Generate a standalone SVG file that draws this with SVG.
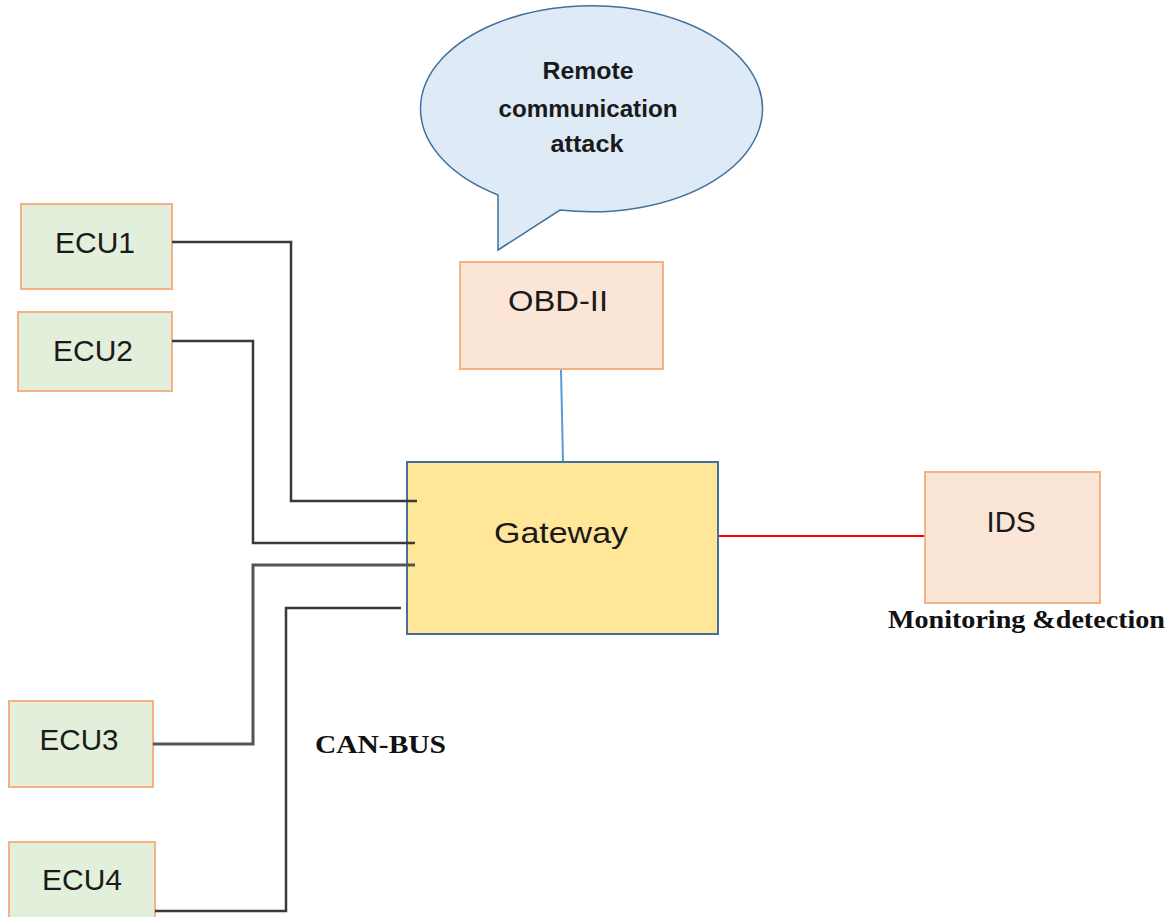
<svg xmlns="http://www.w3.org/2000/svg" width="1174" height="917" viewBox="0 0 1174 917">
  <style>
    .ecu { fill: #E2EFDA; stroke: #F4B183; stroke-width: 2; }
    .peach { fill: #FBE5D6; stroke: #F4B183; stroke-width: 2; }
    .gw { fill: #FFE699; stroke: #41719C; stroke-width: 2; }
    .bubble { fill: #DEEBF7; stroke: #41719C; stroke-width: 1.5; }
    .lbl { font-family: "Liberation Sans", Arial, sans-serif; font-size: 30px; fill: #1a1a1a; text-anchor: middle; }
    .bub { font-family: "Liberation Sans", Arial, sans-serif; font-size: 23px; font-weight: bold; fill: #1a1a1a; text-anchor: middle; }
    .cap { font-family: "Liberation Serif", "Times New Roman", serif; font-size: 26px; font-weight: bold; fill: #111; }
    .wire { fill: none; stroke: #3a3a3a; stroke-width: 2.5; }
  </style>
  <rect width="1174" height="917" fill="#ffffff"/>

  <g id="callout">
    <path class="bubble" d="M498,195 A171,103 0 1 1 560,210 L498,250 Z"/>
    <text class="bub" x="588" y="79" textLength="91" lengthAdjust="spacingAndGlyphs">Remote</text>
    <text class="bub" x="588" y="117" textLength="179" lengthAdjust="spacingAndGlyphs">communication</text>
    <text class="bub" x="587" y="152" textLength="73" lengthAdjust="spacingAndGlyphs">attack</text>
  </g>

  <g id="ecu1">
    <rect class="ecu" x="21" y="204" width="151" height="85"/>
    <text class="lbl" x="95" y="253" textLength="80" lengthAdjust="spacingAndGlyphs">ECU1</text>
  </g>
  <g id="ecu2">
    <rect class="ecu" x="18" y="312" width="154" height="79"/>
    <text class="lbl" x="93" y="361" textLength="80" lengthAdjust="spacingAndGlyphs">ECU2</text>
  </g>
  <g id="ecu3">
    <rect class="ecu" x="9" y="701" width="144" height="86"/>
    <text class="lbl" x="79" y="750" textLength="79" lengthAdjust="spacingAndGlyphs">ECU3</text>
  </g>
  <g id="ecu4">
    <rect class="ecu" x="9" y="842" width="146" height="90"/>
    <text class="lbl" x="82" y="890" textLength="80" lengthAdjust="spacingAndGlyphs">ECU4</text>
  </g>

  <g id="obd">
    <rect class="peach" x="460" y="262" width="203" height="107"/>
    <text class="lbl" x="558" y="311" textLength="100" lengthAdjust="spacingAndGlyphs">OBD-II</text>
  </g>

  <g id="gateway">
    <rect class="gw" x="407" y="462" width="311" height="172"/>
    <text class="lbl" x="561" y="543" textLength="134" lengthAdjust="spacingAndGlyphs">Gateway</text>
  </g>

  <g id="ids">
    <rect class="peach" x="925" y="472" width="175" height="131"/>
    <text class="lbl" x="1011" y="532" textLength="49" lengthAdjust="spacingAndGlyphs">IDS</text>
    <text class="cap" x="888" y="628" textLength="277" lengthAdjust="spacingAndGlyphs">Monitoring &amp;detection</text>
  </g>

  <text id="canbus" class="cap" x="315" y="753" textLength="131" lengthAdjust="spacingAndGlyphs">CAN-BUS</text>

  <!-- bus wiring, drawn last so the stubs overlap the gateway edge -->
  <g id="connectors">
    <polyline class="wire" points="172,242 291,242 291,501 417,501"/>
    <polyline class="wire" points="172,341 253,341 253,543 415,543"/>
    <polyline class="wire" points="415,565 253,565 253,744 153,744" style="stroke:#555;stroke-width:3"/>
    <polyline class="wire" points="401,608 286,608 286,911 155,911"/>
    <line x1="561" y1="370" x2="563" y2="461" stroke="#5B9BD5" stroke-width="2"/>
    <line x1="719" y1="536" x2="924" y2="536" stroke="#FF0000" stroke-width="2"/>
  </g>
</svg>
